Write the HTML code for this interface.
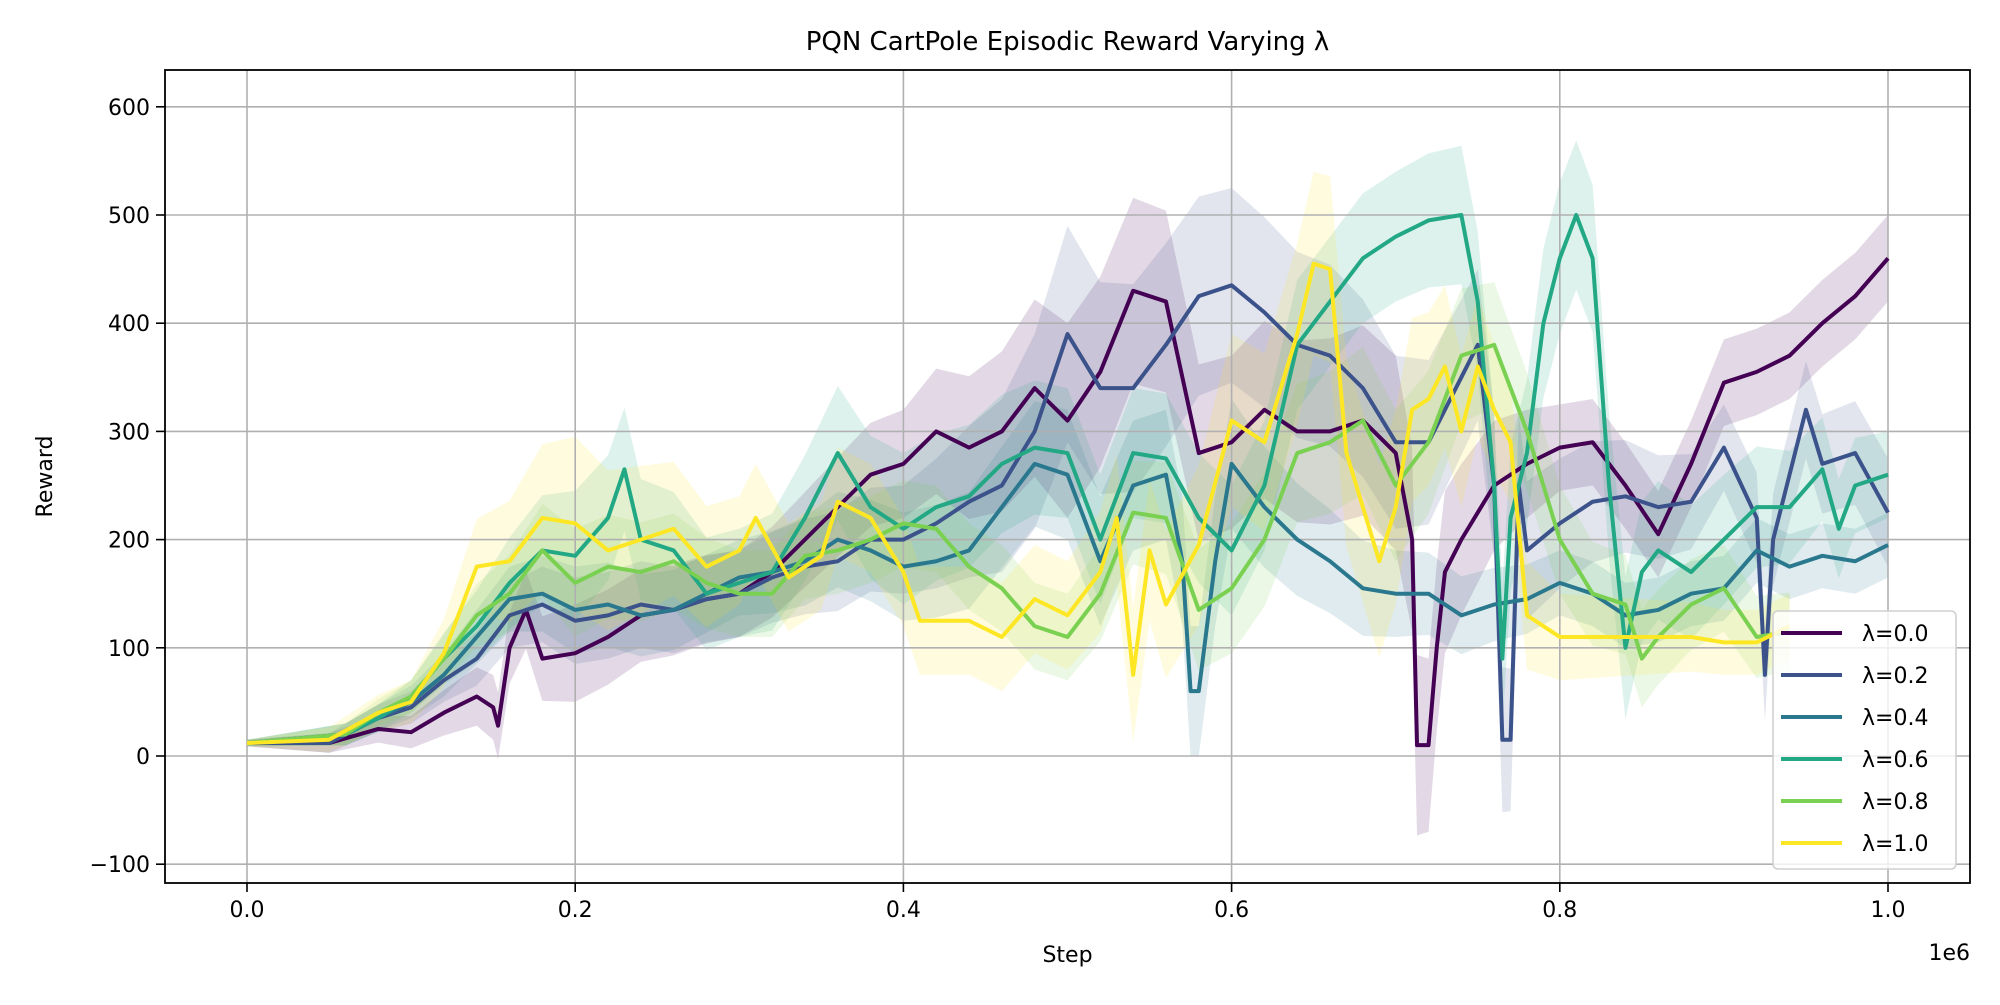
<!DOCTYPE html>
<html><head><meta charset="utf-8"><style>
html,body{margin:0;padding:0;background:#fff}
svg text{font-family:"DejaVu Sans","Liberation Sans",sans-serif;fill:#000}
</style></head><body>
<svg id="chart" width="2000" height="1000" xmlns="http://www.w3.org/2000/svg">
<g id="bands"></g>
<g id="grid"></g>
<g id="lines"></g>
<g id="axes"></g>
<g id="legend"></g>
</svg>
<script>
const xTicks=[0,0.2,0.4,0.6,0.8,1.0];
const xTickLabels=["0.0","0.2","0.4","0.6","0.8","1.0"];
const yTicks=[-100,0,100,200,300,400,500,600];
const yTickLabels=["\u2212100","0","100","200","300","400","500","600"];
const seriesNames=["λ=0.0","λ=0.2","λ=0.4","λ=0.6","λ=0.8","λ=1.0"];
const colors=["#440154","#3b528b","#2a788e","#22a884","#7ad151","#fde725"];
const x0=[0,0.05,0.08,0.1,0.12,0.14,0.15,0.153,0.16,0.17,0.18,0.2,0.22,0.24,0.26,0.28,0.3,0.32,0.34,0.36,0.38,0.4,0.42,0.44,0.46,0.48,0.5,0.52,0.54,0.56,0.58,0.6,0.62,0.64,0.66,0.68,0.7,0.71,0.713,0.72,0.725,0.73,0.74,0.76,0.78,0.8,0.82,0.84,0.86,0.88,0.9,0.92,0.94,0.96,0.98,1.0];
const y0=[12,12,25,22,40,55,45,28,100,135,90,95,110,130,135,145,150,170,200,230,260,270,300,285,300,340,310,355,430,420,280,290,320,300,300,310,280,200,10,10,100,170,200,250,270,285,290,250,205,270,345,355,370,400,425,460];
const x1=[0,0.05,0.08,0.1,0.12,0.14,0.16,0.18,0.2,0.22,0.24,0.26,0.28,0.3,0.32,0.34,0.36,0.38,0.4,0.42,0.44,0.46,0.48,0.5,0.52,0.54,0.56,0.58,0.6,0.62,0.64,0.66,0.68,0.7,0.72,0.74,0.75,0.76,0.765,0.77,0.775,0.78,0.8,0.82,0.84,0.86,0.88,0.9,0.92,0.925,0.93,0.94,0.95,0.96,0.98,1.0];
const y1=[12,12,35,45,70,90,130,140,125,130,140,135,145,150,165,175,180,200,200,215,235,250,300,390,340,340,380,425,435,410,380,370,340,290,290,350,380,250,15,15,250,190,215,235,240,230,235,285,220,75,200,260,320,270,280,225];
const x2=[0,0.06,0.08,0.1,0.12,0.14,0.16,0.18,0.2,0.22,0.24,0.26,0.28,0.3,0.32,0.34,0.36,0.38,0.4,0.42,0.44,0.46,0.48,0.5,0.52,0.54,0.56,0.57,0.575,0.58,0.59,0.6,0.62,0.64,0.66,0.68,0.7,0.72,0.74,0.76,0.78,0.8,0.82,0.84,0.86,0.88,0.9,0.92,0.94,0.96,0.98,1.0];
const y2=[12,20,35,50,75,110,145,150,135,140,130,135,150,165,170,180,200,190,175,180,190,230,270,260,180,250,260,180,60,60,180,270,230,200,180,155,150,150,130,140,145,160,150,130,135,150,155,190,175,185,180,195];
const x3=[0,0.06,0.08,0.1,0.12,0.14,0.16,0.18,0.2,0.22,0.23,0.24,0.26,0.28,0.3,0.32,0.34,0.36,0.38,0.4,0.42,0.44,0.46,0.48,0.5,0.52,0.54,0.56,0.58,0.6,0.62,0.64,0.66,0.68,0.7,0.72,0.74,0.75,0.76,0.765,0.77,0.78,0.79,0.8,0.81,0.82,0.83,0.84,0.85,0.86,0.88,0.9,0.92,0.94,0.96,0.97,0.98,1.0];
const y3=[12,20,35,55,90,120,160,190,185,220,265,200,190,150,160,170,220,280,230,210,230,240,270,285,280,200,280,275,220,190,250,380,420,460,480,495,500,420,250,90,220,280,400,460,500,460,250,100,170,190,170,200,230,230,265,210,250,260];
const x4=[0,0.06,0.08,0.1,0.12,0.14,0.16,0.18,0.2,0.22,0.24,0.26,0.28,0.3,0.32,0.34,0.36,0.38,0.4,0.42,0.44,0.46,0.48,0.5,0.52,0.54,0.56,0.58,0.6,0.62,0.64,0.66,0.68,0.7,0.72,0.74,0.76,0.78,0.8,0.82,0.84,0.85,0.86,0.88,0.9,0.92,0.94];
const y4=[12,20,40,55,90,130,150,190,160,175,170,180,160,150,150,185,190,200,215,210,175,155,120,110,150,225,220,135,155,200,280,290,310,250,290,370,380,300,200,150,140,90,110,140,155,110,115];
const x5=[0,0.05,0.08,0.1,0.12,0.14,0.16,0.18,0.2,0.22,0.24,0.26,0.28,0.3,0.31,0.33,0.35,0.36,0.38,0.4,0.41,0.44,0.46,0.48,0.5,0.52,0.53,0.54,0.55,0.56,0.58,0.6,0.62,0.64,0.65,0.66,0.67,0.69,0.7,0.71,0.72,0.73,0.74,0.75,0.76,0.77,0.78,0.8,0.84,0.88,0.9,0.92,0.94];
const y5=[12,15,40,50,95,175,180,220,215,190,200,210,175,190,220,165,185,235,220,170,125,125,110,145,130,170,220,75,190,140,195,310,290,390,455,450,280,180,230,320,330,360,300,360,320,290,130,110,110,110,105,105,120];
const stdGrid=[0,0.1,0.2,0.3,0.4,0.5,0.6,0.7,0.8,0.9,1.0];
const std0=[3,15,45,40,50,90,80,90,40,40,40];
const std1=[3,15,40,40,50,100,90,80,60,40,50];
const std2=[3,15,40,35,50,60,60,40,30,30,30];
const std3=[3,15,60,50,70,60,60,60,70,60,40];
const std4=[3,15,50,40,40,40,60,70,50,40,30];
const std5=[3,20,80,50,50,50,80,90,40,30,30];
const xs=[x0,x1,x2,x3,x4,x5], ys=[y0,y1,y2,y3,y4,y5], stds=[std0,std1,std2,std3,std4,std5];

const L=165,R=1970,T=70,B=883;
const X=v=>247+v*1641;
const Y=v=>756-v*1.082;
const NS="http://www.w3.org/2000/svg";
function mk(tag,attrs,parent){const e=document.createElementNS(NS,tag);for(const k in attrs)e.setAttribute(k,attrs[k]);parent.appendChild(e);return e;}
function stdAt(s,x){for(let i=0;i<stdGrid.length-1;i++){if(x<=stdGrid[i+1]){const t=(x-stdGrid[i])/(stdGrid[i+1]-stdGrid[i]);return s[i]+(s[i+1]-s[i])*t;}}return s[s.length-1];}
const grid=document.getElementById('grid'),axes=document.getElementById('axes'),bands=document.getElementById('bands'),lines=document.getElementById('lines'),legend=document.getElementById('legend');
xTicks.forEach((t,i)=>{
  const g=mk('line',{x1:X(t),x2:X(t),y1:T,y2:B,stroke:'#b0b0b0','stroke-width':1.6},grid);
  
  
  const tk=mk('line',{x1:X(t),x2:X(t),y1:B,y2:B+9,stroke:'#000','stroke-width':1.6},axes);
  
  
  const tx=mk('text',{x:X(t),y:B+34,'text-anchor':'middle','font-size':22},axes);tx.textContent=xTickLabels[i];
  
  
});
yTicks.forEach((t,i)=>{
  const g=mk('line',{x1:L,x2:R,y1:Y(t),y2:Y(t),stroke:'#b0b0b0','stroke-width':1.6},grid);
  
  
  const tk=mk('line',{x1:L-9,x2:L,y1:Y(t),y2:Y(t),stroke:'#000','stroke-width':1.6},axes);
  
  
  const tx=mk('text',{x:L-15,y:Y(t)+8,'text-anchor':'end','font-size':22},axes);tx.textContent=yTickLabels[i];
  
  
});
for(let s=0;s<6;s++){
  const px=xs[s],py=ys[s];
  let up=[],dn=[];
  for(let i=0;i<px.length;i++){const d=stdAt(stds[s],px[i]);up.push(X(px[i])+','+Y(py[i]+d));dn.unshift(X(px[i])+','+Y(py[i]-d));}
  const b=mk('polygon',{points:up.concat(dn).join(' '),fill:colors[s],'fill-opacity':0.15,stroke:'none'},bands);
  
  
  const pts=px.map((x,i)=>X(x)+','+Y(py[i])).join(' ');
  const l=mk('polyline',{points:pts,fill:'none',stroke:colors[s],'stroke-width':4,'stroke-linejoin':'round'},lines);
  
  
}
const frame=mk('rect',{x:L,y:T,width:R-L,height:B-T,fill:'none',stroke:'#000','stroke-width':1.8},axes);


const title=mk('text',{x:(L+R)/2,y:50,'text-anchor':'middle','font-size':26},axes);title.textContent='PQN CartPole Episodic Reward Varying λ';


const xl=mk('text',{x:(L+R)/2,y:962,'text-anchor':'middle','font-size':22},axes);xl.textContent='Step';


const off=mk('text',{x:R,y:960,'text-anchor':'end','font-size':22},axes);off.textContent='1e6';


const yl=mk('text',{x:52,y:(T+B)/2,'text-anchor':'middle','font-size':22,transform:'rotate(-90 52 '+((T+B)/2)+')'},axes);yl.textContent='Reward';


const lb=mk('rect',{x:1773,y:611,width:183,height:258,rx:5,fill:'#fff','fill-opacity':0.8,stroke:'#d0d0d0','stroke-width':1.6},legend);


seriesNames.forEach((n,i)=>{
  const y=633+i*42;
  const ln=mk('line',{x1:1781,x2:1842,y1:y,y2:y,stroke:colors[i],'stroke-width':4},legend);
  
  
  const t=mk('text',{x:1862,y:y+8,'font-size':22},legend);t.textContent=n;
  
  
});
</script>
</body></html>
